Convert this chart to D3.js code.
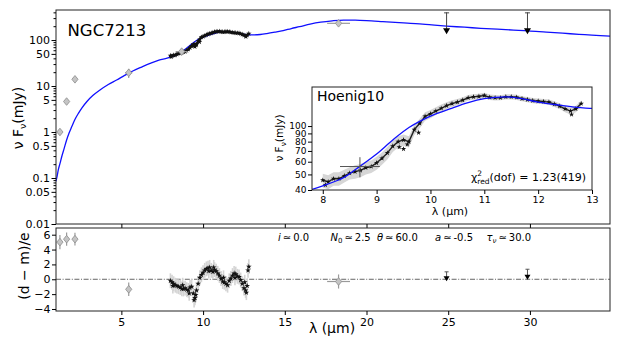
<!DOCTYPE html>
<html>
<head>
<meta charset="utf-8">
<script src="https://cdn.jsdelivr.net/npm/d3@7"></script>
<style>
  body { margin: 0; background: #fff; }
  svg { display: block; font-family: "DejaVu Sans", sans-serif; }
</style>
</head>
<body>
<div id="chart"></div>
<script>
// model SED (blue line), wavelength in micron, flux nuFnu in mJy
const modelLam = [1.0, 1.07, 1.14, 1.25, 1.35, 1.5, 1.65, 1.8, 1.96, 2.15, 2.37, 2.6, 2.88, 3.25, 3.69, 4.2, 4.71, 5.2, 5.73, 6.2, 6.76, 7.3, 7.8,
  8.0, 8.4, 8.7, 9.0, 9.3, 9.6, 9.8, 10.1, 10.36, 10.7, 11.0, 11.4, 11.7, 12.0, 12.4, 12.96, 13.5, 13.9, 14.4, 14.9, 15.4, 15.9,
  16.55, 17.2, 17.9, 18.6, 19.3, 20.0, 21.0, 22.0, 23.0, 24.0, 24.9, 26.0, 27.0, 28.0, 29.0, 29.9, 31.0, 32.0, 33.0, 34.9];
const modelFlux = [0.085, 0.11, 0.15, 0.21, 0.29, 0.44, 0.67, 0.95, 1.3, 1.85, 2.55, 3.4, 4.56, 6.2, 8.2, 10.8, 13.5, 17, 21.5, 25.5, 31, 36.5, 40.4,
  42.5, 48, 56.5, 67, 82, 98, 107, 119, 128, 140, 148, 152, 148, 141, 135, 129, 132, 138, 148, 160, 178, 195,
  222, 245, 262, 272, 270, 264, 252, 240, 228, 213, 201, 190, 180, 172, 165, 159, 149, 141, 133, 122];

// N-band spectrum (Hoenig10)
const specLam = [8.0, 8.1, 8.2, 8.3, 8.4, 8.5, 8.6, 8.7, 8.8, 8.9, 9.0, 9.1, 9.2, 9.3, 9.4, 9.5, 9.6, 9.7, 9.8, 9.9,
  10.0, 10.1, 10.2, 10.3, 10.4, 10.5, 10.6, 10.7, 10.8, 10.9, 11.0, 11.1, 11.2, 11.3, 11.4, 11.5, 11.6, 11.7, 11.8, 11.9,
  12.0, 12.1, 12.2, 12.3, 12.4, 12.5, 12.6, 12.7, 12.8];
const specFlux = [46, 45, 47, 47, 49, 51, 52, 53, 55, 56, 59, 63, 68, 75, 80, 82, 80, 95, 104, 115,
  119, 124, 129, 134, 138, 141, 145, 150, 152, 153, 155, 151, 150, 150, 152, 152, 151, 148, 146, 144,
  143, 142, 141, 137, 133, 128, 124, 128, 138];
const specErr = [4.5, 4.5, 4.5, 4.5, 4.5, 4.5, 5, 5, 5, 5, 5.5, 5.5, 6, 6, 6.5, 6.5, 6.5, 7, 7, 7,
  7, 7, 7, 6.5, 6.5, 6.5, 6, 6, 6, 6, 6, 6, 6, 5.5, 5.5, 5.5, 5.5, 5.5, 5.5, 5.5,
  5.5, 5.5, 5.5, 5.5, 5.5, 6, 6, 6, 6];
const specScatterLam = [8.05, 9.42, 9.5, 9.57, 9.78, 12.62];
const specScatterFlux = [43, 74, 72, 77, 91, 118];
const specResid = [-0.2, -0.4, -0.6, -0.8, -0.9, -1.0, -1.1, -1.3, -1.3, -1.2, -1.4, -1.5, -1.1, -1.0, -1.9, -2.5, -1.5, -0.6, 0.2, 0.6,
  0.9, 1.2, 1.4, 1.5, 1.6, 1.2, 1.0, 1.3, 1.1, 0.8, 0.5, 0.1, -0.3, -0.4, -0.6, -0.8, -0.2, 0.1, 0.5, 0.8,
  0.7, 0.4, 0.3, -0.1, -0.6, -1.2, -1.5, -0.9, 1.7];
const residScatterLam = [8.15, 8.75, 9.15, 9.45, 9.55, 10.35, 10.65, 11.25, 11.95, 12.55, 12.65, 12.75];
const residScatter = [-0.9, -0.8, -1.9, -2.8, -2.1, 1.1, 1.6, 0.2, 0.2, -0.4, -1.8, 1.2];

// photometry
const photLam = [1.24, 1.65, 2.16, 5.45, 8.69, 18.29];
const photFlux = [1.0, 4.6, 14.0, 19.4, 56, 231];
const photFluxErr = [0, 0, 0, 4.5, 8, 25];
const photLamErr = [0, 0, 0, 0.22, 0.37, 0.7];
const ulLam = [24.9, 29.85];
const ulFlux = [159, 159];
const ulTop = [400, 400];

// residuals of the photometry
const residPhotLam = [1.24, 1.65, 2.16, 5.45, 18.29];
const residPhot = [5.0, 5.4, 5.4, -1.35, -0.3];
const residPhotErr = [0.95, 0.9, 0.85, 0.9, 0.95];
const residPhotLamErr = [0, 0, 0, 0, 0.7];
const residUl = [0.15, 0.35];
const residUlTop = [1.0, 1.35];

// ticks
const xTicks = [5, 10, 15, 20, 25, 30];
const yTopLabelled = [0.01, 0.05, 0.1, 0.5, 1, 5, 10, 50, 100];
const yResTicks = [-4, -2, 0, 2, 4, 6];
const xInTicks = [8, 9, 10, 11, 12, 13];
const yInTicks = [40, 50, 60, 70, 80, 90, 100];

const W = 623, H = 346;
const svg = d3.select("#chart").append("svg").attr("width", W).attr("height", H);

const x = d3.scaleLinear().domain([1, 34.9]).range([56, 610]);
const yTop = d3.scaleLog().domain([0.01, 450]).range([224, 10]);
const yRes = d3.scaleLinear().domain([-4.27, 6.9]).range([311, 228]);
const xIn = d3.scaleLinear().domain([7.8, 13]).range([312, 592]);
const yIn = d3.scaleLog().domain([40, 175]).range([190, 87]);

const model = modelLam.map((l, i) => [l, modelFlux[i]]);
const spec = specLam.map((l, i) => ({ l: l, f: specFlux[i], e: specErr[i], r: specResid[i] }));
const scatter = specScatterLam.map((l, i) => ({ l: l, f: specScatterFlux[i] }));
const resAll = spec.map(d => ({ l: d.l, r: d.r }))
  .concat(residScatterLam.map((l, i) => ({ l: l, r: residScatter[i] })));

const defs = svg.append("defs");
function clip(id, x0, y0, w, h) {
  defs.append("clipPath").attr("id", id).append("rect").attr("x", x0).attr("y", y0).attr("width", w).attr("height", h);
}
clip("cTop", 56, 10, 554, 214);
clip("cRes", 56, 228, 554, 83);
clip("cIn", 312, 87, 280, 103);

const diamond = "M0,-3.8L3.1,0L0,3.8L-3.1,0Z";
const star = d3.symbol().type(d3.symbolStar);

// ---------------- top panel ----------------
const gTop = svg.append("g").attr("clip-path", "url(#cTop)");

gTop.append("path")
  .datum(spec)
  .attr("d", d3.area().x(d => x(d.l)).y0(d => yTop(d.f - d.e)).y1(d => yTop(d.f + d.e)))
  .attr("fill", "#d8d8d8");

gTop.append("path")
  .datum(model)
  .attr("d", d3.line().x(d => x(d[0])).y(d => yTop(d[1])).curve(d3.curveMonotoneX))
  .attr("fill", "none").attr("stroke", "#1010ff").attr("stroke-width", 1.3);

gTop.append("path")
  .datum(spec)
  .attr("d", d3.line().x(d => x(d.l)).y(d => yTop(d.f)))
  .attr("fill", "none").attr("stroke", "#111").attr("stroke-width", 2.4);

gTop.selectAll(".sp").data(spec.concat(scatter)).enter().append("path")
  .attr("transform", d => `translate(${x(d.l)},${yTop(d.f)})`)
  .attr("d", star.size(9)).attr("fill", "#111");

// photometry error bars
photLam.forEach((l, i) => {
  if (photLamErr[i] > 0) {
    gTop.append("line").attr("x1", x(l - photLamErr[i])).attr("x2", x(l + photLamErr[i]))
      .attr("y1", yTop(photFlux[i])).attr("y2", yTop(photFlux[i]))
      .attr("stroke", "#9a9a9a").attr("stroke-width", 1.2);
  }
  if (photFluxErr[i] > 0) {
    gTop.append("line").attr("x1", x(l)).attr("x2", x(l))
      .attr("y1", yTop(photFlux[i] - photFluxErr[i])).attr("y2", yTop(photFlux[i] + photFluxErr[i]))
      .attr("stroke", "#9a9a9a").attr("stroke-width", 1.2);
  }
});
gTop.selectAll(".ph").data(photLam).enter().append("path")
  .attr("transform", (d, i) => `translate(${x(d)},${yTop(photFlux[i])})`)
  .attr("d", diamond).attr("fill", "#c4c4c4").attr("stroke", "#8c8c8c").attr("stroke-width", 0.8);

// upper limits
ulLam.forEach((l, i) => {
  gTop.append("line").attr("x1", x(l)).attr("x2", x(l)).attr("y1", yTop(ulFlux[i])).attr("y2", yTop(ulTop[i]))
    .attr("stroke", "#444").attr("stroke-width", 1);
  gTop.append("line").attr("x1", x(l) - 2.5).attr("x2", x(l) + 2.5).attr("y1", yTop(ulTop[i]) + 0.5).attr("y2", yTop(ulTop[i]) + 0.5)
    .attr("stroke", "#444").attr("stroke-width", 1);
  gTop.append("path").attr("transform", `translate(${x(l)},${yTop(ulFlux[i])})`)
    .attr("d", "M-3.5,-2.5L3.5,-2.5L0,3.5Z").attr("fill", "#000");
});

// top frame + axes
svg.append("rect").attr("x", 56).attr("y", 10).attr("width", 554).attr("height", 214)
  .attr("fill", "none").attr("stroke", "#222").attr("stroke-width", 1);

const minorTop = [];
for (let dec = 0.01; dec < 500; dec *= 10) {
  for (let k = 2; k <= 9; k++) {
    const v = +(dec * k).toPrecision(3);
    if (v < 450 && k !== 5) minorTop.push(v);
  }
}
svg.append("g").attr("transform", "translate(56,0)")
  .call(d3.axisLeft(yTop).tickValues(minorTop).tickSize(2.5).tickFormat(""))
  .call(g => g.select(".domain").remove());
svg.append("g").attr("transform", "translate(56,0)")
  .call(d3.axisLeft(yTop).tickValues(yTopLabelled).tickSize(4.5).tickPadding(1.5).tickFormat(d => String(d)))
  .call(g => g.select(".domain").remove())
  .call(g => g.selectAll("text").attr("font-size", 11).attr("font-family", "DejaVu Sans").attr("fill", "#000"));
svg.append("g").attr("transform", "translate(0,224)")
  .call(d3.axisBottom(x).tickValues(xTicks).tickSize(4).tickFormat(""))
  .call(g => g.select(".domain").remove());

svg.append("text").attr("x", 67.5).attr("y", 35.5).attr("font-size", 16.5).text("NGC7213");

const yl = svg.append("text").attr("transform", "translate(23,118) rotate(-90)")
  .attr("text-anchor", "middle").attr("font-size", 14);
yl.append("tspan").text("ν F");
yl.append("tspan").attr("dy", 3).attr("font-size", 9.5).text("ν");
yl.append("tspan").attr("dy", -3).text("(mJy)");

// ---------------- inset ----------------
svg.append("rect").attr("x", 312).attr("y", 87).attr("width", 280).attr("height", 103).attr("fill", "#fff");
const gIn = svg.append("g").attr("clip-path", "url(#cIn)");

gIn.append("path")
  .datum(spec)
  .attr("d", d3.area().x(d => xIn(d.l)).y0(d => yIn(d.f - d.e)).y1(d => yIn(d.f + d.e)))
  .attr("fill", "#d6d6d6");
gIn.append("path")
  .datum(spec)
  .attr("d", d3.line().x(d => xIn(d.l)).y(d => yIn(d.f)))
  .attr("fill", "none").attr("stroke", "#222").attr("stroke-width", 1.4);
gIn.selectAll(".sp").data(spec.concat(scatter)).enter().append("path")
  .attr("transform", d => `translate(${xIn(d.l)},${yIn(d.f)})`)
  .attr("d", star.size(9)).attr("fill", "#111");
gIn.append("path")
  .datum(model)
  .attr("d", d3.line().x(d => xIn(d[0])).y(d => yIn(d[1])).curve(d3.curveMonotoneX))
  .attr("fill", "none").attr("stroke", "#1010ff").attr("stroke-width", 1.3);

// photometric point inside inset (index 4)
gIn.append("line").attr("x1", xIn(photLam[4] - photLamErr[4])).attr("x2", xIn(photLam[4] + photLamErr[4]))
  .attr("y1", yIn(photFlux[4])).attr("y2", yIn(photFlux[4])).attr("stroke", "#555").attr("stroke-width", 1);
gIn.append("line").attr("x1", xIn(photLam[4])).attr("x2", xIn(photLam[4]))
  .attr("y1", yIn(photFlux[4] - photFluxErr[4])).attr("y2", yIn(photFlux[4] + photFluxErr[4]))
  .attr("stroke", "#555").attr("stroke-width", 1);

svg.append("rect").attr("x", 312).attr("y", 87).attr("width", 280).attr("height", 103)
  .attr("fill", "none").attr("stroke", "#222").attr("stroke-width", 1);

svg.append("g").attr("transform", "translate(312,0)")
  .call(d3.axisLeft(yIn).tickValues(yInTicks).tickSize(4).tickPadding(1.5).tickFormat(d => String(d)))
  .call(g => g.select(".domain").remove())
  .call(g => g.selectAll("text").attr("font-size", 9).attr("font-family", "DejaVu Sans").attr("fill", "#000"));
svg.append("g").attr("transform", "translate(0,190)")
  .call(d3.axisBottom(xIn).tickValues(xInTicks).tickSize(4).tickPadding(2).tickFormat(d => String(d)))
  .call(g => g.select(".domain").remove())
  .call(g => g.selectAll("text").attr("font-size", 9.5).attr("font-family", "DejaVu Sans").attr("fill", "#000"));

svg.append("text").attr("x", 317).attr("y", 100.5).attr("font-size", 14).text("Hoenig10");

const iyl = svg.append("text").attr("transform", "translate(283,138) rotate(-90)")
  .attr("text-anchor", "middle").attr("font-size", 10.5);
iyl.append("tspan").text("ν F");
iyl.append("tspan").attr("dy", 2.5).attr("font-size", 7.5).text("ν");
iyl.append("tspan").attr("dy", -2.5).text("(mJy)");

svg.append("text").attr("x", 450).attr("y", 214.5).attr("text-anchor", "middle").attr("font-size", 11).text("λ (μm)");

const chi = svg.append("text").attr("x", 586).attr("y", 180.5).attr("text-anchor", "end").attr("font-size", 11);
chi.append("tspan").text("χ");
chi.append("tspan").attr("dy", -5).attr("font-size", 7.5).text("2");
chi.append("tspan").attr("dx", -4.8).attr("dy", 8).attr("font-size", 7.5).text("red");
chi.append("tspan").attr("dy", -3).text("(dof) = 1.23(419)");

// ---------------- residual panel ----------------
const gRes = svg.append("g").attr("clip-path", "url(#cRes)");

gRes.append("line").attr("x1", 56).attr("x2", 610).attr("y1", yRes(0)).attr("y2", yRes(0))
  .attr("stroke", "#555").attr("stroke-width", 0.9).attr("stroke-dasharray", "5,1.6,1,1.6");

gRes.selectAll(".re").data(resAll).enter().append("line")
  .attr("x1", d => x(d.l)).attr("x2", d => x(d.l))
  .attr("y1", d => yRes(d.r - 1)).attr("y2", d => yRes(d.r + 1))
  .attr("stroke", "#d4d4d4").attr("stroke-width", 1.6);
gRes.selectAll(".rs").data(resAll).enter().append("path")
  .attr("transform", d => `translate(${x(d.l)},${yRes(d.r)})`)
  .attr("d", star.size(10)).attr("fill", "#111");

residPhotLam.forEach((l, i) => {
  gRes.append("line").attr("x1", x(l)).attr("x2", x(l))
    .attr("y1", yRes(residPhot[i] - residPhotErr[i])).attr("y2", yRes(residPhot[i] + residPhotErr[i]))
    .attr("stroke", "#9a9a9a").attr("stroke-width", 1.2);
  if (residPhotLamErr[i] > 0) {
    gRes.append("line").attr("x1", x(l - residPhotLamErr[i])).attr("x2", x(l + residPhotLamErr[i]))
      .attr("y1", yRes(residPhot[i])).attr("y2", yRes(residPhot[i]))
      .attr("stroke", "#9a9a9a").attr("stroke-width", 1.2);
  }
});
gRes.selectAll(".rp").data(residPhotLam).enter().append("path")
  .attr("transform", (d, i) => `translate(${x(d)},${yRes(residPhot[i])})`)
  .attr("d", diamond).attr("fill", "#c4c4c4").attr("stroke", "#8c8c8c").attr("stroke-width", 0.8);

ulLam.forEach((l, i) => {
  gRes.append("line").attr("x1", x(l)).attr("x2", x(l)).attr("y1", yRes(residUl[i])).attr("y2", yRes(residUlTop[i]))
    .attr("stroke", "#555").attr("stroke-width", 1);
  gRes.append("line").attr("x1", x(l) - 2).attr("x2", x(l) + 2).attr("y1", yRes(residUlTop[i])).attr("y2", yRes(residUlTop[i]))
    .attr("stroke", "#555").attr("stroke-width", 1);
  gRes.append("path").attr("transform", `translate(${x(l)},${yRes(residUl[i])})`)
    .attr("d", "M-3,-2L3,-2L0,3Z").attr("fill", "#000");
});

svg.append("rect").attr("x", 56).attr("y", 228).attr("width", 554).attr("height", 83)
  .attr("fill", "none").attr("stroke", "#222").attr("stroke-width", 1);

svg.append("g").attr("transform", "translate(56,0)")
  .call(d3.axisLeft(yRes).tickValues(yResTicks).tickSize(4).tickPadding(1.5).tickFormat(d => d < 0 ? "−" + Math.abs(d) : String(d)))
  .call(g => g.select(".domain").remove())
  .call(g => g.selectAll("text").attr("font-size", 11).attr("font-family", "DejaVu Sans").attr("fill", "#000"));
svg.append("g").attr("transform", "translate(0,311)")
  .call(d3.axisBottom(x).tickValues(xTicks).tickSize(4).tickPadding(3).tickFormat(d => String(d)))
  .call(g => g.select(".domain").remove())
  .call(g => g.selectAll("text").attr("font-size", 11).attr("font-family", "DejaVu Sans").attr("fill", "#000"));

svg.append("text").attr("transform", "translate(29,266) rotate(-90)")
  .attr("text-anchor", "middle").attr("font-size", 14).text("(d − m)/e");
svg.append("text").attr("x", 332).attr("y", 333).attr("text-anchor", "middle").attr("font-size", 14).text("λ (μm)");

// model parameters
function param(px, sym, sub, val) {
  const t = svg.append("text").attr("x", px).attr("y", 240.5).attr("font-size", 10);
  t.append("tspan").attr("font-style", "italic").text(sym);
  if (sub) {
    t.append("tspan").attr("dy", 2.5).attr("font-size", 7).attr("font-style", sub === "0" ? "normal" : "italic").text(sub);
    t.append("tspan").attr("dy", -2.5).text("\u2009≃\u2009" + val);
  } else {
    t.append("tspan").text("\u2009≃\u2009" + val);
  }
}
param(278, "i", null, "0.0");
param(330.5, "N", "0", "2.5");
param(377, "θ", null, "60.0");
param(435, "a", null, "-0.5");
param(486.5, "τ", "ν", "30.0");
</script>
</body>
</html>
